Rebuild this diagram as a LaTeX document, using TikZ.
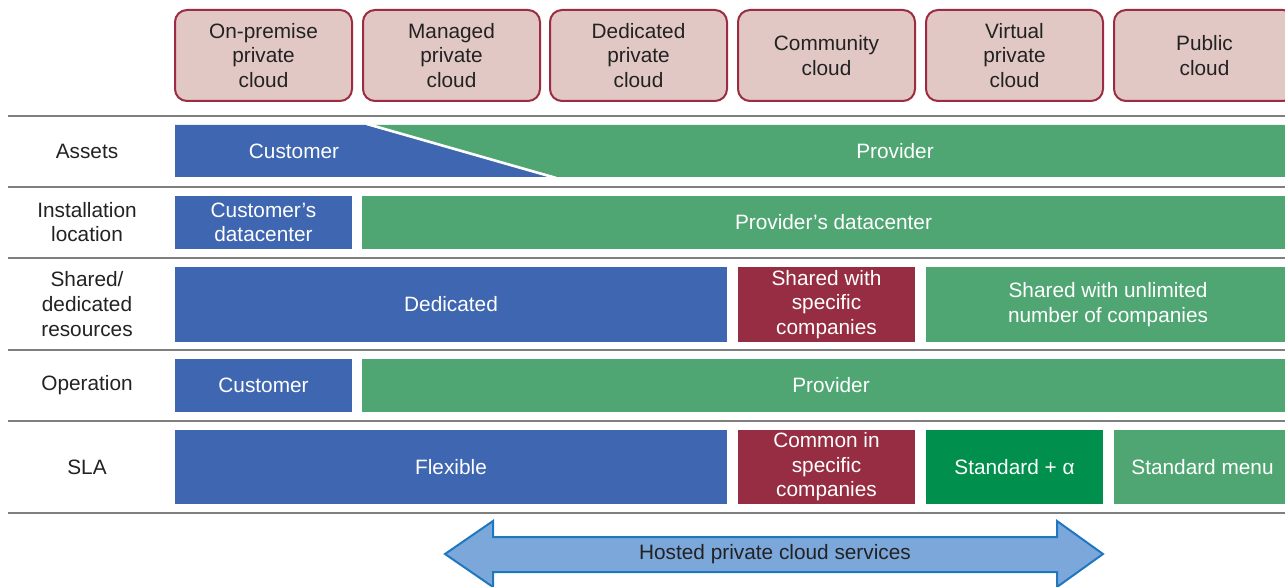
\documentclass[tikz,border=0pt]{standalone}
\usepackage{fontspec}
\setmainfont{Liberation Sans}
\usetikzlibrary{positioning}

\definecolor{custblue}{HTML}{3F66B0}
\definecolor{provgreen}{HTML}{4FA673}
\definecolor{stdgreen}{HTML}{008F4C}
\definecolor{sharedred}{HTML}{962D42}
\definecolor{typefill}{HTML}{E2C8C4}
\definecolor{typeline}{HTML}{9B2C42}
\definecolor{arrowfill}{HTML}{7BA7DA}
\definecolor{arrowline}{HTML}{1F77C0}
\definecolor{rule}{HTML}{7F7F7F}
\definecolor{ink}{HTML}{222222}

\begin{document}
\begin{tikzpicture}[x = 0.5pt, y = -0.5pt,
  font = \fontsize{10.4}{12.3}\selectfont,
  cloudtype/.style = {draw = typeline, line width = 1pt, fill = typefill, rounded corners = 6pt, text = ink, align = center, minimum width = 88.5pt, minimum height = 45.5pt, inner sep = 0},
  rowname/.style = {text = ink, align = center},
  bar/.style = {fill = #1, text = white, align = center, inner sep = 0},
  sep/.style = {draw = rule, line width = 0.8pt}]
\useasboundingbox (0, 0) rectangle (1285, 587);

% cloud types along the top
\node[cloudtype] (onprem) at (263.5, 55.5) {On-premise\\private\\cloud};
\node[cloudtype] (managed) at (451.5, 55.5) {Managed\\private\\cloud};
\node[cloudtype] (dedic) at (638.5, 55.5) {Dedicated\\private\\cloud};
\node[cloudtype] (commun) at (826.5, 55.5) {Community\\cloud};
\node[cloudtype] (virtual) at (1014.5, 55.5) {Virtual\\private\\cloud};
\node[cloudtype, minimum width = 90.5pt] (public) at (1204.5, 55.5) {Public\\cloud};

% separating rules
\foreach \y in {116, 187, 258, 350, 421, 513}
  \draw[sep] (8, \y) -- (1285, \y);

% row names
\node[rowname] (assets) at (87, 151) {Assets};
\node[rowname] (instloc) at (87, 222) {Installation\\location};
\node[rowname] (shared) at (87, 304) {Shared/\\dedicated\\resources};
\node[rowname] (oper) at (87, 385) {Operation};
\node[rowname] (sla) at (87, 467) {SLA};

% assets: the share moves from customer to provider
\fill[custblue] (175, 125) -- (366, 125) -- (555, 177) -- (175, 177) -- cycle;
\fill[provgreen] (368, 125) -- (1285, 125) -- (1285, 177) -- (557, 177) -- cycle;
\draw[white, line width = 1.3pt] (367, 124) -- (556, 178);
\node[text = white] (assetcust) at (294, 151) {Customer};
\node[text = white] (assetprov) at (895, 151) {Provider};

% installation location
\node[bar = custblue, minimum width = 88.5pt, minimum height = 26.5pt] (custdc) at (263.5, 222.5) {Customer’s\\datacenter};
\node[bar = provgreen, minimum width = 471.5pt, minimum height = 26.5pt] (provdc) at (833.5, 222.5) {Provider’s datacenter};

% shared / dedicated resources
\node[bar = custblue, minimum width = 276pt, minimum height = 37.5pt] (dedres) at (451, 304.5) {Dedicated};
\node[bar = sharedred, minimum width = 88.5pt, minimum height = 37.5pt] (specres) at (826.5, 304.5) {Shared with\\specific\\companies};
\node[bar = provgreen, minimum width = 182pt, minimum height = 37.5pt] (allres) at (1108, 304.5) {Shared with unlimited\\number of companies};

% operation
\node[bar = custblue, minimum width = 88.5pt, minimum height = 26.5pt] (opcust) at (263.5, 385.5) {Customer};
\node[bar = provgreen, minimum width = 469pt, minimum height = 26.5pt] (opprov) at (831, 385.5) {Provider};

% service level agreement
\node[bar = custblue, minimum width = 276pt, minimum height = 37pt] (flex) at (451, 467) {Flexible};
\node[bar = sharedred, minimum width = 88.5pt, minimum height = 37pt] (common) at (826.5, 467) {Common in\\specific\\companies};
\node[bar = stdgreen, minimum width = 88.5pt, minimum height = 37pt] (stdplus) at (1014.5, 467) {Standard + α};
\node[bar = provgreen, minimum width = 88.5pt, minimum height = 37pt] (stdmenu) at (1202.5, 467) {Standard menu};

% range of hosted private cloud
\filldraw[fill = arrowfill, draw = arrowline, line width = 1pt, line join = miter]
  (445, 554) -- (493, 521) -- (493, 537) -- (1057, 537) -- (1057, 521) -- (1103, 554)
  -- (1057, 587) -- (1057, 572) -- (493, 572) -- (493, 587) -- cycle;
\node[text = ink] (hosted) at (775, 554) {Hosted private cloud services};
\end{tikzpicture}
\end{document}
